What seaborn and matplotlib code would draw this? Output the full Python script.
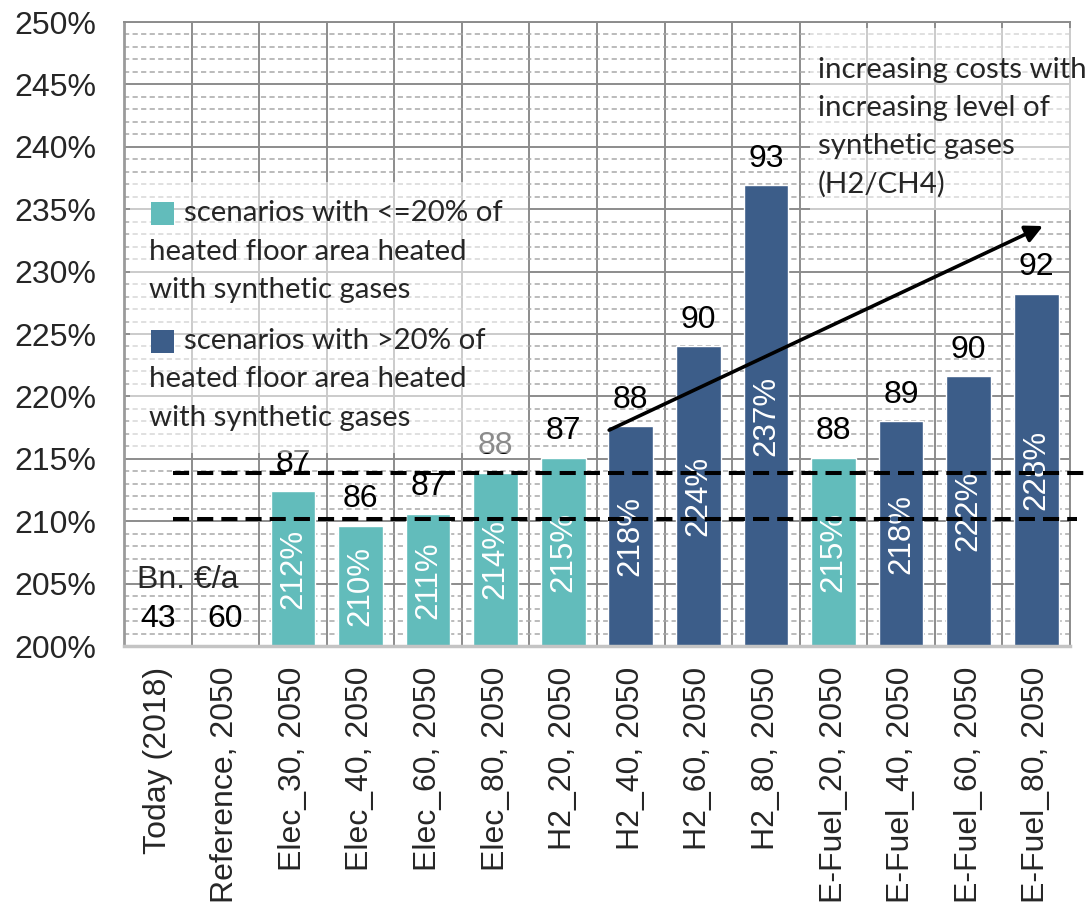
import numpy as np
import pandas as pd
import seaborn as sns
import matplotlib
matplotlib.use("Agg")
import matplotlib.pyplot as plt
from matplotlib.patches import Rectangle
from matplotlib.ticker import MultipleLocator, FuncFormatter

# ---- data ---------------------------------------------------------------
scenarios = [
    "Today (2018)", "Reference, 2050",
    "Elec_30, 2050", "Elec_40, 2050", "Elec_60, 2050", "Elec_80, 2050",
    "H2_20, 2050", "H2_40, 2050", "H2_60, 2050", "H2_80, 2050",
    "E-Fuel_20, 2050", "E-Fuel_40, 2050", "E-Fuel_60, 2050", "E-Fuel_80, 2050",
]
# cost index relative to today (%); the first two lie below the visible range
cost_index = [100, 140,
              212.4, 209.6, 210.6, 213.9,
              215.1, 217.6, 224.0, 236.9,
              215.1, 218.0, 221.6, 228.2]
# absolute annual costs in Bn. EUR/a
annual_cost = [43, 60, 87, 86, 87, 88, 87, 88, 90, 93, 88, 89, 90, 92]
group = ["base", "base",
         "low", "low", "low", "low",
         "low", "high", "high", "high",
         "low", "high", "high", "high"]
# reference levels marked with black dashed lines (%)
ref_levels = [213.9, 210.2]

TEAL = "#62bcbb"
NAVY = "#3c5d89"
palette = {"base": NAVY, "low": TEAL, "high": NAVY}

df = pd.DataFrame({"scenario": scenarios, "index": cost_index,
                   "cost": annual_cost, "group": group})

# ---- style --------------------------------------------------------------
sns.set_style("white")
plt.rcParams["font.family"] = ["Liberation Sans", "DejaVu Sans"]
LEG_FONT = ["Lato", "DejaVu Sans"]

W, H = 1091, 902
fig = plt.figure(figsize=(W / 100, H / 100), dpi=100)
ax = fig.add_axes([124 / W, 1 - 646 / H, 946 / W, 624 / H])

sns.barplot(data=df, x="scenario", y="index", hue="group", order=scenarios,
            palette=palette, dodge=False, width=0.66, saturation=1,
            legend=False, ax=ax, zorder=2)

YMIN, YMAX = 200, 250
ax.set_ylim(YMIN, YMAX)
ax.set_xlim(-0.5, len(scenarios) - 0.5)
ax.set_xlabel("")
ax.set_ylabel("")

# grid: solid every 5 %, dashed every 1 %, vertical lines between categories
ax.yaxis.set_major_locator(MultipleLocator(5))
ax.yaxis.set_minor_locator(MultipleLocator(1))
ax.set_xticks(np.arange(-0.5, len(scenarios), 1), minor=True)
ax.set_axisbelow(True)
ax.grid(which="major", axis="y", color="#8c8c8c", lw=1.4)
ax.grid(which="minor", axis="y", color="#a8a8a8", lw=1.1, ls=(0, (3.4, 2.2)))
ax.grid(which="minor", axis="x", color="#8c8c8c", lw=1.4)
ax.tick_params(which="both", length=0)
ax.tick_params(axis="y", labelsize=23, pad=20)
ax.tick_params(axis="x", labelsize=23, pad=15, rotation=90)
ax.yaxis.set_major_formatter(FuncFormatter(lambda v, p: f"{v:.0f}%"))

for side in ["top", "right"]:
    ax.spines[side].set_color("#8c8c8c")
    ax.spines[side].set_linewidth(1.4)
ax.spines["left"].set_color("#9a9a9a")
ax.spines["left"].set_linewidth(2)
ax.spines["bottom"].set_color("#c4c4c4")
ax.spines["bottom"].set_linewidth(2.5)

# ---- labels on bars ------------------------------------------------------
for i, (v, c) in enumerate(zip(cost_index, annual_cost)):
    top = max(v, YMIN)
    ax.annotate(f"{c}", (i, top), xytext=(0, 13.5), textcoords="offset points",
                ha="center", va="baseline", fontsize=23, color="black", zorder=3)
    if v > YMIN:
        ax.text(i, (YMIN + v) / 2, f"{v:.0f}%", rotation=90, ha="center",
                va="center", color="white", fontsize=22.5, zorder=4)

ax.annotate("Bn. €/a", (0.45, YMIN), xytext=(0, 41.5), textcoords="offset points",
            ha="center", va="baseline", fontsize=23, zorder=3)

# ---- reference levels -----------------------------------------------------
ax.plot([0.22, 13.81], [ref_levels[0]] * 2, color="black", lw=2.9,
        ls=(0, (4.0, 2.0)), clip_on=False, zorder=5)
ax.plot([0.22, 13.6], [ref_levels[1]] * 2, color="black", lw=2.9,
        ls=(0, (4.0, 2.0)), clip_on=False, zorder=5)

# ---- trend arrow ----------------------------------------------------------
ax.annotate("", xy=(13.1, 233.65), xytext=(6.68, 217.3),
            arrowprops=dict(arrowstyle="-|>", lw=2.6, color="black",
                            mutation_scale=26, shrinkA=0, shrinkB=0),
            zorder=6)

# ---- legend and note with translucent backgrounds -------------------------
ax.add_patch(Rectangle((-0.41, 215.46), 5.89, 21.7, facecolor="white",
                       alpha=0.55, edgecolor="none", zorder=7))
ax.add_patch(Rectangle((9.65, 234.9), 4.16, 14.6, facecolor="white",
                       alpha=0.55, edgecolor="none", zorder=7, clip_on=False))


def px(x, y):
    return x / W, 1 - y / H


LEG_SIZE = 21.2
for (sq_y, first_y, col, first, rest) in [
    (202, 213, TEAL, "scenarios with <=20% of", ["heated floor area heated", "with synthetic gases"]),
    (330, 341, NAVY, "scenarios with >20% of", ["heated floor area heated", "with synthetic gases"]),
]:
    fig.patches.append(Rectangle(px(151, sq_y + 23), 23 / W, 23 / H,
                                 transform=fig.transFigure, facecolor=col,
                                 edgecolor="none", zorder=8))
    fig.text(*px(184, first_y), first, fontsize=LEG_SIZE, family=LEG_FONT,
             va="center", ha="left", zorder=8)
    for k, line in enumerate(rest):
        fig.text(*px(149, first_y + 38.5 * (k + 1)), line, fontsize=LEG_SIZE,
                 family=LEG_FONT, va="center", ha="left", zorder=8)

note = ["increasing costs with", "increasing level of",
        "synthetic gases", "(H2/CH4)"]
for k, line in enumerate(note):
    fig.text(*px(818, 70 + 38 * k), line, fontsize=LEG_SIZE, family=LEG_FONT,
             va="center", ha="left", zorder=8)

fig.savefig("out.png", dpi=100)
